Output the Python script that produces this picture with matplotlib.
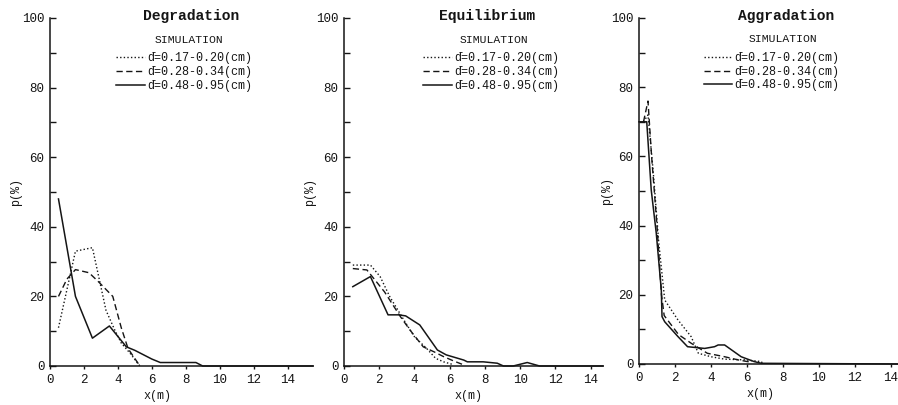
import matplotlib
matplotlib.use('Agg')
import matplotlib.pyplot as plt

plt.rcParams['font.family'] = ['Liberation Mono', 'DejaVu Sans Mono', 'DejaVu Sans']

# ---------------- data ----------------
titles = ['Degradation', 'Equilibrium', 'Aggradation']
legend_title = 'SIMULATION'
size_labels = ['d\u0304=0.17-0.20(cm)', 'd\u0304=0.28-0.34(cm)', 'd\u0304=0.48-0.95(cm)']
x_label = 'x(m)'
y_label = 'p(%)'
x_ticks = [0, 2, 4, 6, 8, 10, 12, 14]
y_ticks = [0, 20, 40, 60, 80, 100]

# Degradation
deg_fine_x = [0.5, 1.5, 2.5, 3.3, 3.8, 4.2, 4.8, 5.1, 5.3]
deg_fine_y = [11, 33, 34, 16, 10.5, 6.6, 3.2, 1.2, 0]
deg_mid_x = [0.5, 1.0, 1.5, 2.3, 2.9, 3.7, 4.2, 4.6, 5.3]
deg_mid_y = [20, 25, 27.7, 26.8, 24, 20, 11, 5, 0]
deg_coarse_x = [0.5, 1.5, 2.5, 3.5, 4.5, 5.0, 6.0, 6.5, 8.6, 9.0, 15.5]
deg_coarse_y = [48, 20, 8, 11.5, 5.5, 4.5, 2, 1, 1, 0, 0]

# Equilibrium
equ_fine_x = [0.5, 1.5, 2.05, 2.6, 3.4, 4.0, 4.7, 5.2, 5.65, 6.2]
equ_fine_y = [29, 29, 25.7, 19.9, 13.2, 8.4, 5.0, 2.2, 1.2, 0.4]
equ_mid_x = [0.5, 1.3, 2.3, 3.2, 3.75, 4.5, 5.1, 5.65, 6.2, 6.7]
equ_mid_y = [28, 27.6, 21.3, 14.2, 10.3, 5.5, 4.1, 2.7, 1.5, 0.5]
equ_coarse_x = [0.5, 1.5, 2.5, 3.1, 3.5, 4.3, 5.3, 5.8, 6.8, 7.0, 7.9, 8.7, 9.05, 9.6, 10.4, 11.1, 14.7]
equ_coarse_y = [22.8, 25.7, 14.7, 14.7, 14.4, 11.8, 4.6, 3.2, 1.7, 1.2, 1.2, 0.8, 0, 0, 1.0, 0, 0]

# Aggradation
agg_fine_x = [0.25, 0.5, 0.8, 1.1, 1.43, 2.17, 2.9, 3.3, 4.0, 4.76, 5.87, 6.8, 6.9]
agg_fine_y = [70, 72, 55, 35, 18.5, 12.7, 7.9, 3.1, 2.1, 1.4, 1.2, 0.7, 0]
agg_mid_x = [0.25, 0.5, 0.7, 1.0, 1.25, 1.4, 2.2, 2.9, 3.8, 4.76, 5.5, 6.24]
agg_mid_y = [70, 76, 60, 40, 20, 14, 8.5, 6.0, 3.1, 2.1, 1.2, 0.5]
agg_coarse_x = [0.0, 0.43, 0.68, 0.96, 1.24, 1.28, 1.43, 2.17, 2.7, 3.65, 4.2, 4.4, 4.76, 5.68, 6.4, 6.8, 14.4]
agg_coarse_y = [70, 70, 50.3, 37.8, 21.4, 13.7, 12.2, 7.9, 5.0, 4.5, 5.0, 5.5, 5.5, 2.1, 0.7, 0.2, 0]

panels = [
    (deg_fine_x, deg_fine_y, deg_mid_x, deg_mid_y, deg_coarse_x, deg_coarse_y),
    (equ_fine_x, equ_fine_y, equ_mid_x, equ_mid_y, equ_coarse_x, equ_coarse_y),
    (agg_fine_x, agg_fine_y, agg_mid_x, agg_mid_y, agg_coarse_x, agg_coarse_y),
]

# ---------------- layout ----------------
W, H = 898, 405
fig = plt.figure(figsize=(W / 100, H / 100), dpi=100)

# (left px, right px, bottom px, x max, title x, legend anchor x, sim-title x, xlabel frac, ylabel frac)
layout = [
    (50, 313, 366, 15.5, 8.3, 3.9, 8.2, 0.41, -0.108),
    (344, 603, 366, 14.7, 8.1, 4.5, 8.5, 0.48, -0.108),
    (639, 898, 364, 14.4, 8.2, 3.6, 8.0, 0.47, -0.1),
]
top_px = 18

styles = [dict(linestyle=(0, (1, 1.6)), lw=1.0),
          dict(linestyle=(0, (4.5, 2.5)), lw=1.0),
          dict(linestyle='-', lw=1.1)]
ink = '#151515'

for i, (pdata, lay) in enumerate(zip(panels, layout)):
    left, right, bot, xmax, tx, lx, sx, xlf, ylf = lay
    ax = fig.add_axes([left / W, (H - bot) / H, (right - left) / W, (bot - top_px) / H])
    ax.set_xlim(0, xmax)
    ax.set_ylim(0, 100)
    for k in range(3):
        ax.plot(pdata[2 * k], pdata[2 * k + 1], color=ink, label=size_labels[k],
                clip_on=False, **styles[k])
    for s in ['top', 'right']:
        ax.spines[s].set_visible(False)
    for s in ['left', 'bottom']:
        ax.spines[s].set_linewidth(1.1)
        ax.spines[s].set_color(ink)
    ax.set_xticks(x_ticks)
    ax.set_yticks(y_ticks)
    ax.set_yticks([10, 30, 50, 70, 90], minor=True)
    ax.tick_params(axis='y', which='both', direction='in', length=4, width=1, pad=4,
                   labelsize=9, colors=ink)
    ax.tick_params(axis='x', which='major', direction='out', length=2.5, width=1, pad=3,
                   labelsize=9, colors=ink)
    ax.set_xlabel(x_label, fontsize=8.5, color=ink)
    ax.set_ylabel(y_label, fontsize=8.5, color=ink)
    ax.xaxis.set_label_coords(xlf, -0.068)
    ax.yaxis.set_label_coords(ylf, 0.5)
    ax.text(tx, 100.6, titles[i], ha='center', va='center', fontsize=10.5,
            fontweight='bold', color=ink, clip_on=False)
    ax.text(sx, 93.8, legend_title, ha='center', va='center', fontsize=8.2, color=ink)
    leg = ax.legend(loc='upper left', bbox_to_anchor=(lx, 90.2), bbox_transform=ax.transData,
                    frameon=False, fontsize=8.5,
                    handlelength=2.4, handletextpad=0.2, labelspacing=0.15, borderpad=0,
                    borderaxespad=0)
    for t in leg.get_texts():
        t.set_color(ink)

fig.savefig('out.png', dpi=100, facecolor='white')
